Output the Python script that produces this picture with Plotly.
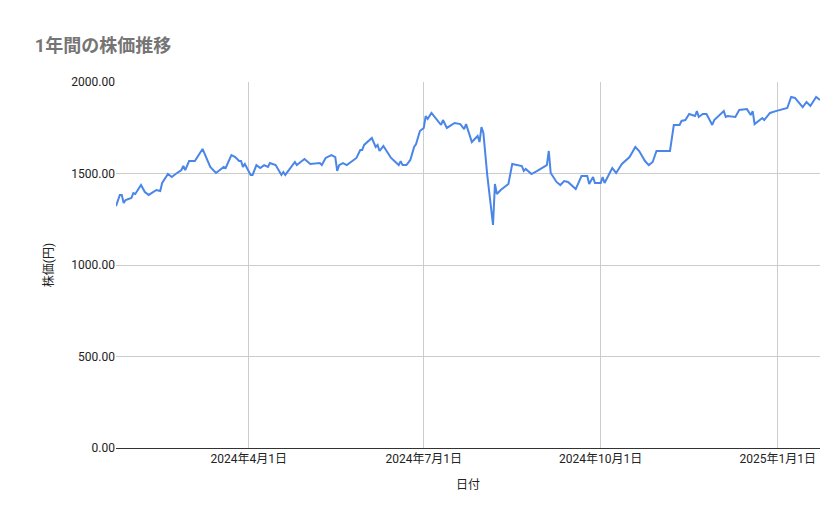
import pandas as pd
import plotly.graph_objects as go

start_date = "2024-01-23"
day_offsets = [0,2,3,4,5,8,9,10,13,15,17,21,23,24,27,29,31,34,35,36,38,41,43,45,49,52,56,57,60,62,64,65,66,67,70,71,73,75,77,79,80,83,86,87,88,93,94,98,101,106,107,109,112,114,115,116,118,120,125,127,128,129,133,135,136,137,139,143,147,148,149,151,153,155,156,158,160,161,162,164,167,169,170,172,176,179,181,182,185,188,189,190,191,193,196,197,198,200,204,206,211,212,213,216,219,221,224,225,226,229,231,233,235,239,242,245,246,248,249,252,253,254,258,260,263,267,270,272,275,277,279,281,283,288,290,293,294,296,298,301,302,303,305,307,310,311,316,317,318,322,324,328,330,331,332,336,337,340,343,349,351,353,357,359,361,364,366]
prices = [1322,1383,1383,1339,1355,1366,1393,1388,1437,1399,1383,1410,1404,1448,1497,1481,1497,1519,1541,1519,1568,1568,1601,1634,1536,1503,1536,1530,1601,1590,1568,1568,1536,1552,1492,1492,1546,1530,1546,1536,1557,1546,1492,1508,1492,1563,1546,1579,1552,1557,1546,1585,1601,1590,1514,1546,1557,1546,1585,1628,1628,1656,1694,1645,1656,1623,1650,1585,1546,1568,1546,1546,1574,1645,1661,1732,1749,1814,1798,1831,1792,1765,1792,1749,1776,1770,1743,1770,1672,1705,1672,1754,1721,1492,1219,1443,1388,1410,1443,1552,1541,1514,1525,1497,1514,1525,1546,1623,1503,1454,1437,1459,1454,1415,1486,1486,1443,1481,1448,1448,1481,1448,1530,1503,1552,1590,1645,1623,1568,1546,1563,1623,1623,1623,1765,1765,1787,1792,1825,1814,1841,1809,1825,1825,1765,1792,1841,1809,1814,1809,1847,1852,1820,1841,1770,1803,1792,1831,1841,1858,1918,1913,1863,1891,1869,1918,1902]
dates = pd.Timestamp(start_date) + pd.to_timedelta(day_offsets, unit="D")

tick_dates = ["2024-04-01", "2024-07-01", "2024-10-01", "2025-01-01"]
tick_labels = ["2024年4月1日", "2024年7月1日", "2024年10月1日", "2025年1月1日"]
y_ticks = [0, 500, 1000, 1500, 2000]

font = "Roboto, 'Noto Sans CJK JP', sans-serif"
fig = go.Figure(go.Scatter(x=dates, y=prices, mode="lines",
                           line=dict(color="#4a86e8", width=2)))
fig.update_layout(
    width=839, height=519, plot_bgcolor="white", paper_bgcolor="white",
    margin=dict(l=108, r=27, t=74, b=79, autoexpand=False),
    font=dict(family=font, size=12, color="#222222"),
    title=dict(text="<b>1年間の株価推移</b>", x=0.032, y=1 - 38 / 519,
               xanchor="left", yanchor="middle",
               font=dict(size=18, color="#757575", family=font)),
    showlegend=False,
    xaxis=dict(range=[pd.Timestamp(start_date), pd.Timestamp("2025-01-23")],
               tickvals=tick_dates, ticktext=tick_labels, showgrid=True,
               gridcolor="#cccccc", showline=True, linecolor="#333333",
               automargin=False, title=dict(text="日付", font=dict(size=12)), ticks=""),
    yaxis=dict(range=[0, 2000], tickvals=y_ticks, tickformat=".2f",
               gridcolor="#cccccc", zeroline=False, ticks="", automargin=False,
               title=dict(text="株価(円)", font=dict(size=12))),
)
fig.write_html("out.html")
